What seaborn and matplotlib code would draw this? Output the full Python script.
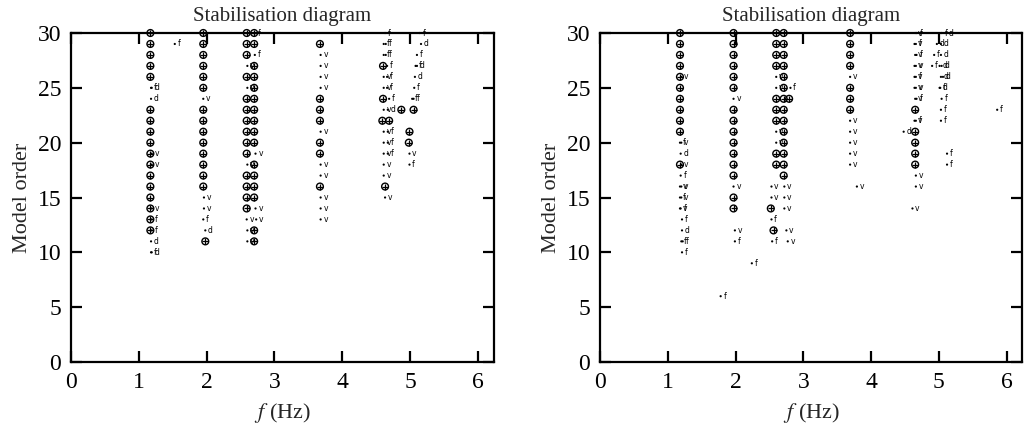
import matplotlib
matplotlib.use("Agg")
import matplotlib.pyplot as plt
import seaborn as sns
import pandas as pd

# ---------------- data ----------------
# Left panel: stable poles (circle-plus)
left_stab_freq = ([1.17] * 17 +
                  [1.95] * 14 + [1.98] +
                  [2.59] * 14 +
                  [2.70] * 16 +
                  [3.67] * 7 +
                  [4.60, 4.60, 4.59, 4.63, 4.69, 4.87, 5.05, 4.99, 4.98])
left_stab_order = ([30, 29, 28, 27, 26, 23, 22, 21, 20, 19, 18, 17, 16, 15, 14, 13, 12] +
                   [30, 29, 28, 27, 26, 25, 23, 22, 21, 20, 19, 18, 17, 16] + [11] +
                   [30, 29, 28, 26, 24, 23, 22, 21, 20, 19, 17, 16, 15, 14] +
                   [30, 29, 27, 26, 25, 24, 23, 22, 21, 20, 18, 17, 16, 15, 12, 11] +
                   [29, 24, 23, 22, 20, 19, 16] +
                   [27, 24, 22, 16, 22, 23, 23, 21, 20])
# Left panel: labelled poles (dot + letter)
left_lab_freq = [1.18, 1.19, 1.18, 1.19, 1.19, 1.19, 1.19, 1.19, 1.18, 1.18, 1.19,
                 1.53,
                 1.95, 1.96, 1.96, 1.95, 1.98,
                 2.72, 2.71, 2.60, 2.60, 2.72, 2.60, 2.72, 2.59, 2.73, 2.60, 2.60,
                 3.68, 3.68, 3.68, 3.68, 3.68, 3.68, 3.68, 3.68, 3.68, 3.68,
                 4.63, 4.61, 4.64, 4.61, 4.64, 4.66, 4.61, 4.66, 4.61, 4.66, 4.69,
                 4.61, 4.67, 4.61, 4.67, 4.61, 4.67, 4.61, 4.67, 4.99, 4.61, 4.99,
                 4.61, 4.63,
                 5.14, 5.16, 5.10, 5.08, 5.10, 5.07, 5.06, 5.03, 5.05]
left_lab_order = [25, 25, 24, 19, 18, 14, 13, 12, 11, 10, 10,
                  29,
                  24, 15, 14, 13, 12,
                  30, 28, 27, 25, 19, 18, 14, 13, 13, 12, 11,
                  28, 27, 26, 25, 21, 18, 17, 15, 14, 13,
                  30, 29, 29, 28, 28, 27, 26, 26, 25, 25, 24,
                  23, 23, 21, 21, 20, 20, 19, 19, 19, 18, 18,
                  17, 15,
                  30, 29, 28, 27, 27, 26, 25, 24, 24]
left_lab_kind = ['f', 'd', 'd', 'v', 'v', 'v', 'f', 'f', 'd', 'f', 'd',
                 'f',
                 'v', 'v', 'v', 'f', 'd',
                 'f', 'f', 'v', 'v', 'v', 'v', 'v', 'v', 'v', 'v', 'v',
                 'v', 'v', 'v', 'v', 'v', 'v', 'v', 'v', 'v', 'v',
                 'f', 'f', 'f', 'f', 'f', 'f', 'v', 'f', 'v', 'f', 'f',
                 'v', 'd', 'v', 'f', 'v', 'f', 'v', 'f', 'v', 'v', 'f',
                 'v', 'v',
                 'f', 'd', 'f', 'f', 'd', 'd', 'f', 'f', 'f']

# Right panel: stable poles (circle-plus)
right_stab_freq = ([1.18] * 11 +
                   [1.97] * 15 +
                   [2.60] * 9 + [2.52, 2.56] +
                   [2.71] * 14 + [2.79] +
                   [3.69] * 7 +
                   [4.65] * 5)
right_stab_order = ([30, 29, 28, 27, 26, 25, 24, 23, 22, 21, 18] +
                    [30, 29, 28, 27, 26, 25, 23, 22, 21, 20, 19, 18, 17, 15, 14] +
                    [30, 29, 28, 27, 24, 23, 22, 19, 18] + [14, 12] +
                    [30, 29, 28, 27, 26, 25, 24, 23, 22, 21, 20, 19, 18, 17] + [24] +
                    [30, 29, 28, 27, 25, 24, 23] +
                    [23, 21, 20, 19, 18])
# Right panel: labelled poles (dot + letter)
right_lab_freq = [1.20, 1.18, 1.20, 1.19, 1.20, 1.19, 1.18, 1.20, 1.18, 1.20, 1.18, 1.19,
                  1.21, 1.21, 1.20, 1.22, 1.21,
                  2.24, 1.78,
                  1.97, 1.97, 1.99, 1.99,
                  2.60, 2.60, 2.81, 2.60, 2.60, 2.53, 2.72, 2.53, 2.72, 2.72, 2.53, 2.75, 2.54, 2.77,
                  3.69, 3.69, 3.69, 3.69, 3.69, 3.69, 3.79,
                  4.65, 4.67, 4.64, 4.66, 4.65, 4.67, 4.64, 4.66, 4.64, 4.66, 4.64, 4.66,
                  4.65, 4.67, 4.64, 4.66, 4.48, 4.66, 4.66, 4.61,
                  5.04, 5.10, 4.97, 5.03, 4.93, 5.03, 4.90, 5.01, 5.04, 5.03, 5.06, 5.01, 5.02,
                  5.04, 5.03, 5.03, 5.12, 5.12, 5.86]
right_lab_order = [26, 20, 20, 19, 18, 17, 16, 16, 15, 15, 14, 14,
                   13, 12, 11, 11, 10,
                   9, 6,
                   24, 16, 12, 11,
                   26, 25, 25, 21, 20, 16, 16, 15, 15, 14, 13, 12, 11, 11,
                   26, 22, 21, 20, 19, 18, 16,
                   30, 30, 29, 29, 28, 28, 27, 27, 26, 26, 25, 25,
                   24, 24, 22, 22, 21, 17, 16, 14,
                   30, 30, 29, 29, 28, 28, 27, 27, 27, 26, 26, 25, 25,
                   24, 23, 22, 19, 18, 23]
right_lab_kind = ['v', 'f', 'v', 'd', 'v', 'f', 'v', 'v', 'f', 'v', 'v', 'f',
                  'f', 'd', 'f', 'f', 'f',
                  'f', 'f',
                  'v', 'v', 'v', 'f',
                  'v', 'v', 'f', 'v', 'v', 'v', 'v', 'v', 'v', 'v', 'f', 'v', 'f', 'v',
                  'v', 'v', 'v', 'v', 'v', 'v', 'v',
                  'v', 'f', 'v', 'f', 'v', 'f', 'v', 'v', 'v', 'f', 'v', 'v',
                  'v', 'f', 'v', 'f', 'd', 'v', 'v', 'v',
                  'f', 'd', 'd', 'd', 'f', 'd', 'f', 'd', 'd', 'd', 'd', 'f', 'd',
                  'f', 'f', 'f', 'f', 'f', 'f']

x_ticks = [0, 1, 2, 3, 4, 5, 6]
y_ticks = [0, 5, 10, 15, 20, 25, 30]
title_text = "Stabilisation diagram"

# ---------------- style ----------------
sns.set_style("ticks")
plt.rcParams['font.family'] = ['Liberation Serif', 'DejaVu Serif']
plt.rcParams['mathtext.fontset'] = 'stix'

fig = plt.figure(figsize=(10.27, 4.28), dpi=100)
ax_l = fig.add_axes([71 / 1027, 1 - 362 / 428, 423 / 1027, 329 / 428])
ax_r = fig.add_axes([600 / 1027, 1 - 362 / 428, 422 / 1027, 329 / 428])


def draw_panel(ax, sf, so, lf, lo, lk, xmax):
    stab = pd.DataFrame({'f': sf, 'n': so})
    lab = pd.DataFrame({'f': lf, 'n': lo, 'k': lk})
    sns.scatterplot(data=stab, x='f', y='n', ax=ax, marker='o', s=24,
                    facecolors='none', edgecolor='black', linewidth=1.0,
                    clip_on=False, zorder=3)
    sns.scatterplot(data=stab, x='f', y='n', ax=ax, marker='+', s=24,
                    color='black', linewidth=0.9, clip_on=False, zorder=3)
    sns.scatterplot(data=lab, x='f', y='n', ax=ax, marker='o', s=2.5,
                    color='black', edgecolor='none', clip_on=False, zorder=3)
    for f, n, k in zip(lf, lo, lk):
        ax.annotate(k, (f, n), xytext=(2.0, 0), textcoords='offset points',
                    ha='left', va='center', fontsize=5.5,
                    family='DejaVu Sans', color='black', zorder=3,
                    annotation_clip=False)
    ax.set_xlim(0, xmax)
    ax.set_ylim(0, 30)
    ax.set_xticks(x_ticks)
    ax.set_yticks(y_ticks)
    ax.set_xticklabels([str(t) for t in x_ticks], fontsize=17)
    ax.set_yticklabels([str(t) for t in y_ticks], fontsize=17)
    ax.tick_params(direction='in', length=8, width=1.6, top=True, right=True,
                   pad=7, colors='black')
    for sp in ax.spines.values():
        sp.set_visible(True)
        sp.set_linewidth(1.6)
        sp.set_color('black')
    ax.set_title(title_text, fontsize=15, pad=9)
    ax.set_xlabel(r"$f$ (Hz)", fontsize=16, labelpad=6)
    ax.set_ylabel("Model order", fontsize=16, labelpad=4)
    ax.grid(False)


draw_panel(ax_l, left_stab_freq, left_stab_order, left_lab_freq, left_lab_order,
           left_lab_kind, 6.236)
draw_panel(ax_r, right_stab_freq, right_stab_order, right_lab_freq, right_lab_order,
           right_lab_kind, 6.226)

fig.savefig("out.png", dpi=100)
